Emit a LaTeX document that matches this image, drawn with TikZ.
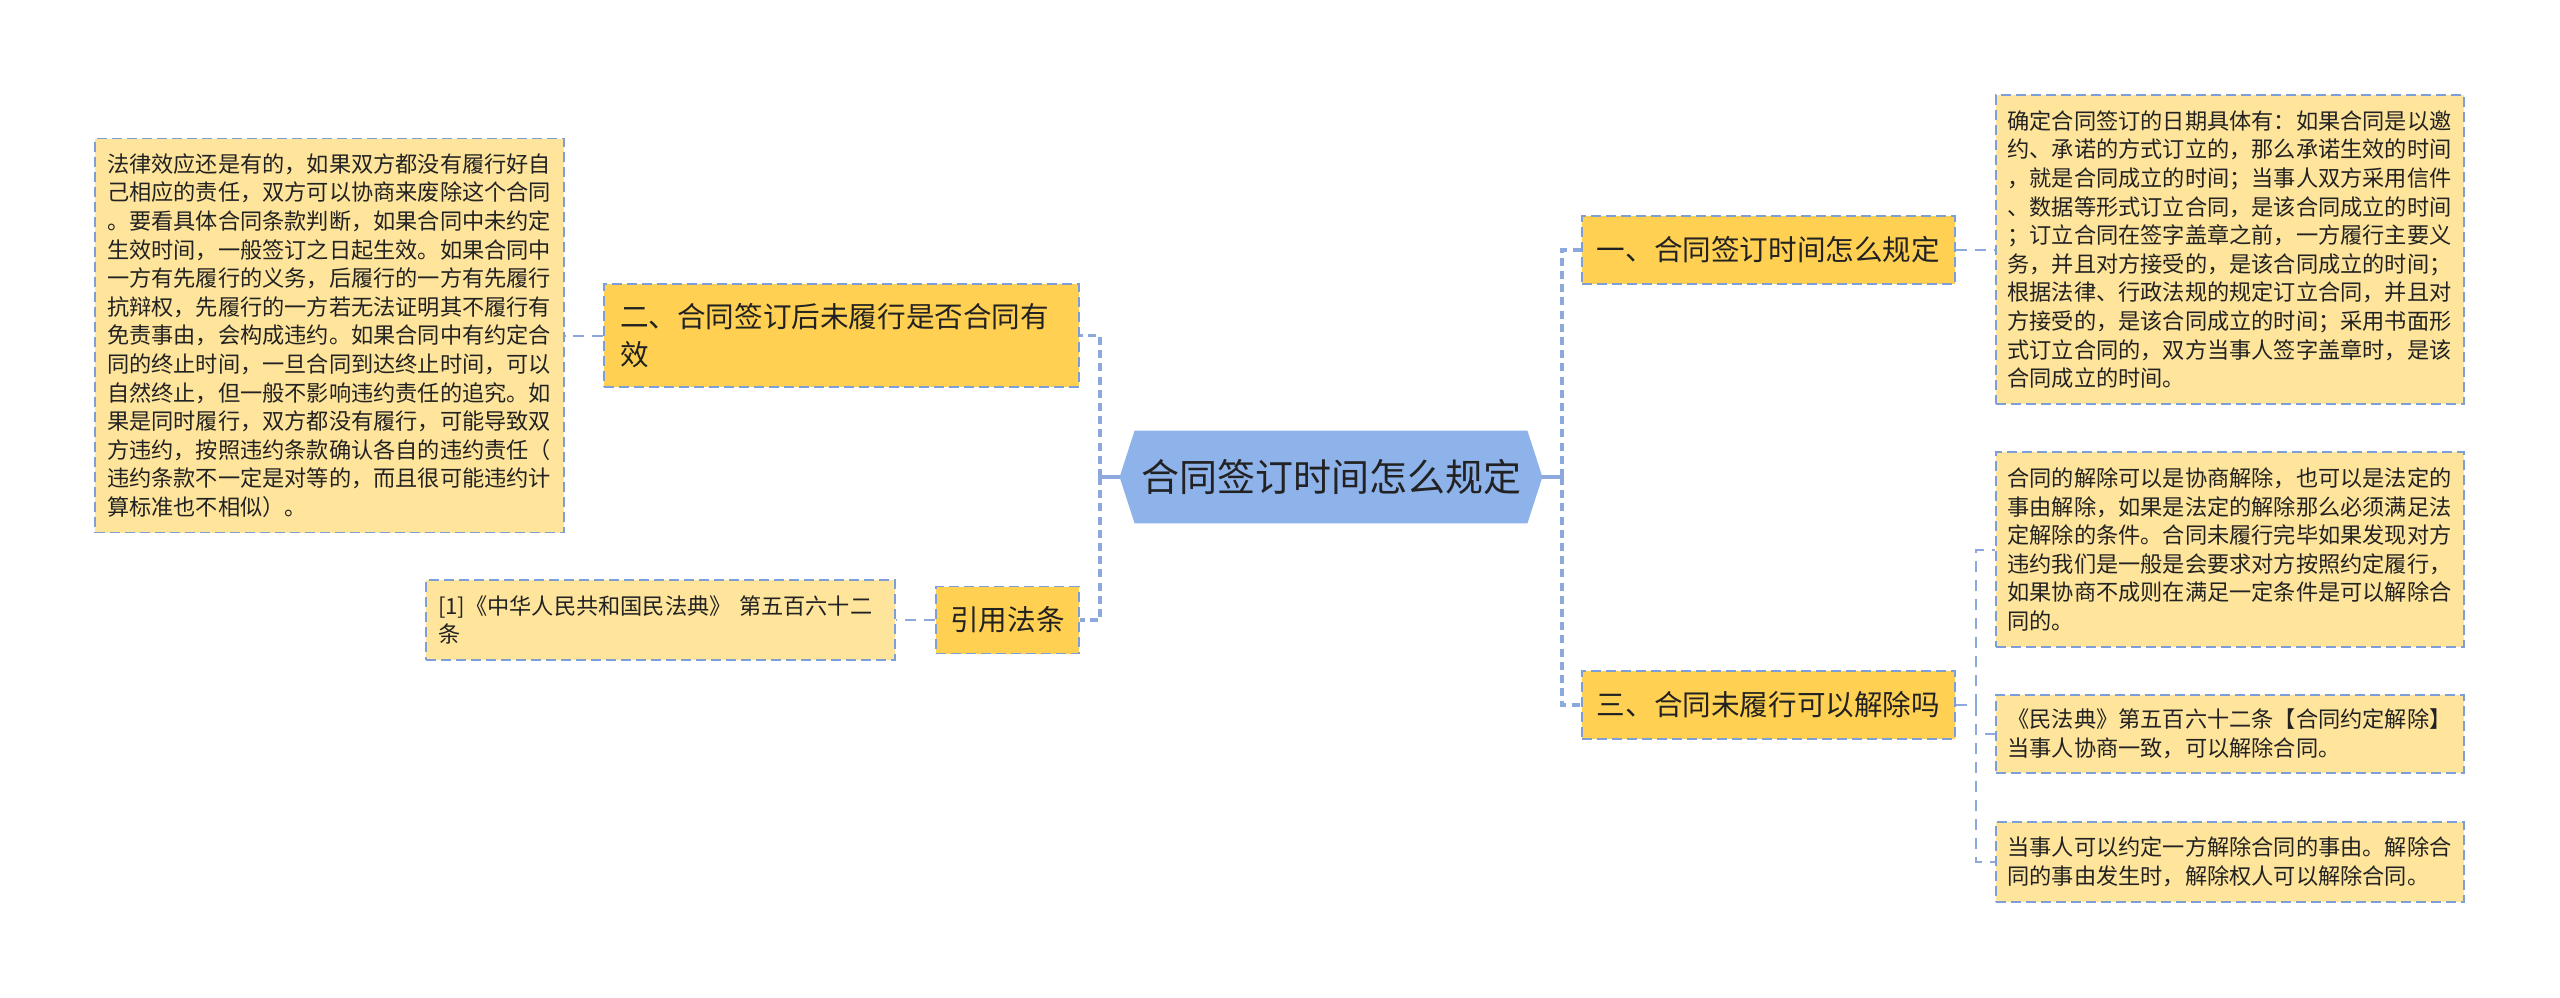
\documentclass[tikz,border=0pt]{standalone}
\usepackage{fontspec}
\setmainfont{Noto Sans CJK SC}
\usetikzlibrary{backgrounds}
\definecolor{leafcol}{RGB}{255,229,156}
\definecolor{branchcol}{RGB}{255,208,82}
\definecolor{rootcol}{RGB}{142,178,234}
\definecolor{bordercol}{RGB}{125,158,214}
\definecolor{conncol}{RGB}{140,168,220}
\definecolor{txtcol}{RGB}{34,34,34}
\newcommand\mmleaf{\fontsize{11.1pt}{14.3pt}\selectfont}
\newcommand\mmbranch{\fontsize{14.3pt}{19pt}\selectfont}
\newcommand\mmroot{\fontsize{19pt}{22pt}\selectfont}
\tikzset{
  boxborder/.style={draw=bordercol, line width=0.9pt, dash pattern=on 5pt off 2.5pt},
  leafbox/.style={boxborder, fill=leafcol, rectangle, inner sep=0pt, align=left,
    text=txtcol, font=\mmleaf, text width=222.5pt},
  branchbox/.style={boxborder, fill=branchcol, rectangle, inner sep=0pt, align=center,
    text=txtcol, font=\mmbranch},
  rootbox/.style={rectangle, inner sep=0pt, align=center, text=txtcol, font=\mmroot,
    minimum width=196pt, minimum height=46pt},
  mainconn/.style={draw=conncol, line width=1.8pt, dash pattern=on 4pt off 2.6pt},
  stubconn/.style={draw=conncol, line width=1.8pt},
  leafconn/.style={draw=conncol, line width=1pt, dash pattern=on 5.5pt off 4pt},
}
\begin{document}
\begin{tikzpicture}[x=0.5pt,y=-0.5pt]
\useasboundingbox (0,0) rectangle (2560,997);

% root
\node[rootbox] (root) at (1331,477) {合同签订时间怎么规定};
\begin{pgfonlayer}{background}
\fill[white] (0,0) rectangle (2560,997);
\fill[rootcol] (root.north west) -- (root.north east) -- ([xshift=7.5pt]root.east)
  -- (root.south east) -- (root.south west) -- ([xshift=-7.5pt]root.west) -- cycle;
\end{pgfonlayer}
\coordinate (rootw) at ([xshift=-7.5pt]root.west);
\coordinate (roote) at ([xshift=7.5pt]root.east);

% branches
\node[branchbox, minimum width=186.5pt, minimum height=34pt] (b1) at (1768.5,250) {一、合同签订时间怎么规定};
\node[branchbox, minimum width=186.5pt, minimum height=34pt] (b3) at (1768.5,705) {三、合同未履行可以解除吗};
\node[branchbox, minimum width=237.5pt, minimum height=51.5pt, text width=221.5pt, align=left] (b2) at (841.5,335.5) {二、合同签订后未履行是否合同有\\效};
\node[branchbox, minimum width=71.5pt, minimum height=33.5pt] (b4) at (1007.5,620) {引用法条};

% leaves
\node[leafbox, minimum width=234.5pt, minimum height=197pt] (l2) at (329.5,335.5) {法律效应还是有的，如果双方都没有履行好自\\
己相应的责任，双方可以协商来废除这个合同\\
。要看具体合同条款判断，如果合同中未约定\\
生效时间，一般签订之日起生效。如果合同中\\
一方有先履行的义务，后履行的一方有先履行\\
抗辩权，先履行的一方若无法证明其不履行有\\
免责事由，会构成违约。如果合同中有约定合\\
同的终止时间，一旦合同到达终止时间，可以\\
自然终止，但一般不影响违约责任的追究。如\\
果是同时履行，双方都没有履行，可能导致双\\
方违约，按照违约条款确认各自的违约责任（\\
违约条款不一定是对等的，而且很可能违约计\\
算标准也不相似）。};

\node[leafbox, minimum width=234.5pt, minimum height=40pt] (l4) at (660.5,620) {[1]《中华人民共和国民法典》 第五百六十二\\条};

\node[leafbox, minimum width=234pt, minimum height=154.5pt] (l1) at (2230,249.5) {确定合同签订的日期具体有：如果合同是以邀\\
约、承诺的方式订立的，那么承诺生效的时间\\
，就是合同成立的时间；当事人双方采用信件\\
、数据等形式订立合同，是该合同成立的时间\\
；订立合同在签字盖章之前，一方履行主要义\\
务，并且对方接受的，是该合同成立的时间；\\
根据法律、行政法规的规定订立合同，并且对\\
方接受的，是该合同成立的时间；采用书面形\\
式订立合同的，双方当事人签字盖章时，是该\\
合同成立的时间。};

\node[leafbox, minimum width=234pt, minimum height=97.5pt] (l3a) at (2230,549.5) {合同的解除可以是协商解除，也可以是法定的\\
事由解除，如果是法定的解除那么必须满足法\\
定解除的条件。合同未履行完毕如果发现对方\\
违约我们是一般是会要求对方按照约定履行，\\
如果协商不成则在满足一定条件是可以解除合\\
同的。};

\node[leafbox, minimum width=234pt, minimum height=39pt] (l3b) at (2230,734) {《民法典》第五百六十二条【合同约定解除】\\
当事人协商一致，可以解除合同。};

\node[leafbox, minimum width=234pt, minimum height=40pt] (l3c) at (2230,862) {当事人可以约定一方解除合同的事由。解除合\\
同的事由发生时，解除权人可以解除合同。};

% main connectors
\coordinate (jl) at (1100,477);
\coordinate (jr) at (1562,477);
\draw[stubconn] (rootw) -- (jl);
\draw[stubconn] ([yshift=-3.5pt]jl) -- ([yshift=3.5pt]jl);
\draw[stubconn] (roote) -- (jr);
\draw[stubconn] ([yshift=-3.5pt]jr) -- ([yshift=3.5pt]jr);
\draw[mainconn] (jl) |- (b2.east);
\draw[mainconn] (jl) |- (b4.east);
\draw[mainconn] (jr) |- (b1.west);
\draw[mainconn] (jr) |- (b3.west);

% leaf connectors
\draw[leafconn] (b2.west) -- (l2.east |- b2.west);
\draw[leafconn] (b4.west) -- (l4.east);
\draw[leafconn] (b1.east) -- (l1.west |- b1.east);
\coordinate (j3) at (1976,705);
\draw[leafconn] (b3.east) -- (j3);
\draw[leafconn] (j3) |- (l3a.west);
\draw[leafconn] (j3) |- (l3b.west);
\draw[leafconn] (j3) |- (l3c.west);
\end{tikzpicture}
\end{document}
